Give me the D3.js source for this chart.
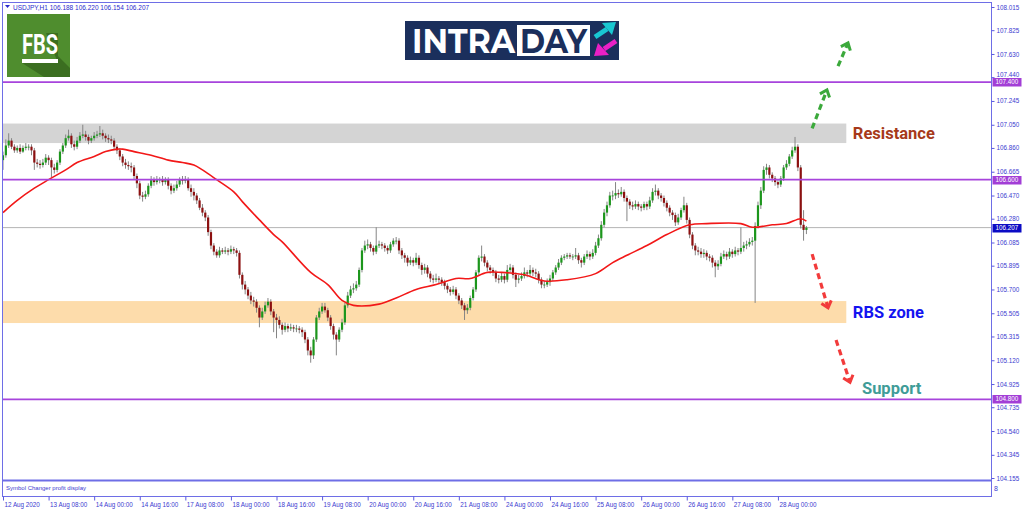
<!DOCTYPE html>
<meta charset="utf-8">
<style>
body {
	margin: 0;
	background: #fff;
}
svg {
	display: block;
	font-family: "Liberation Sans", Arial, sans-serif;
}
.axis text {
	fill: #3b3bd0;
	font-size: 6.3px;
}
.axis line {
	stroke: #5a5ae0;
}
.axis path {
	display: none;
}
.note {
	font-family: Roboto, "Liberation Sans", sans-serif;
	font-weight: bold;
	font-size: 16.5px;
}
</style>
<body>
<svg width="1024" height="511"></svg>
<script src="https://d3js.org/d3.v7.min.js"></script>
<script>

// USDJPY H1, 12 Aug 16:00 .. 28 Aug 10:00 (one value per hourly bar)
var opens = [
	106.76,106.80,106.88,106.92,106.87,106.84,106.86,106.83,106.86,106.87,106.87,106.84,106.74,106.73,106.72,106.74,
	106.78,106.76,106.70,106.68,106.74,106.83,106.88,106.94,106.96,106.89,106.87,106.92,106.96,106.97,106.95,106.92,
	106.94,106.96,106.97,106.98,106.96,106.94,106.93,106.92,106.87,106.84,106.79,106.74,106.72,106.71,106.70,106.63,
	106.57,106.47,106.46,106.48,106.55,106.60,106.58,106.60,106.60,106.58,106.60,106.55,106.51,106.53,106.56,106.60,
	106.59,106.60,106.53,106.50,106.47,106.43,106.37,106.33,106.29,106.17,106.06,106.01,105.98,106.02,106.01,106.02,
	106.01,106.03,106.02,106.00,105.82,105.74,105.70,105.65,105.61,105.60,105.55,105.47,105.52,105.57,105.60,105.52,
	105.47,105.45,105.41,105.37,105.40,105.38,105.39,105.38,105.38,105.37,105.35,105.29,105.20,105.16,105.29,105.47,
	105.52,105.56,105.53,105.47,105.40,105.33,105.29,105.37,105.43,105.57,105.65,105.70,105.71,105.74,105.86,106.02,
	106.06,106.07,106.04,106.01,106.06,106.07,106.06,106.04,106.02,106.07,106.10,106.10,106.02,105.98,105.96,105.92,
	105.94,105.92,105.96,105.90,105.86,105.88,105.83,105.79,105.78,105.79,105.78,105.76,105.73,105.70,105.68,105.70,
	105.65,105.61,105.57,105.53,105.55,105.63,105.70,105.84,105.96,105.97,105.92,105.88,105.86,105.84,105.79,105.78,
	105.81,105.78,105.86,105.88,105.82,105.78,105.79,105.81,105.84,105.83,105.86,105.84,105.83,105.78,105.74,105.74,
	105.76,105.79,105.84,105.88,105.92,105.96,105.97,105.98,105.97,105.97,105.98,105.94,105.92,105.97,105.99,105.97,
	106.00,106.06,106.12,106.23,106.33,106.39,106.47,106.47,106.49,106.48,106.50,106.45,106.42,106.39,106.38,106.40,
	106.38,106.37,106.40,106.38,106.43,106.50,106.51,106.47,106.45,106.41,106.37,106.33,106.31,106.25,106.29,106.35,
	106.39,106.27,106.15,106.06,106.02,106.01,105.99,106.00,105.97,105.96,105.92,105.89,105.91,105.97,105.99,105.97,
	106.01,105.99,106.02,106.01,106.04,106.06,106.07,106.09,106.10,106.22,106.39,106.51,106.68,106.70,106.64,106.61,
	106.58,106.56,106.61,106.70,106.73,106.79,106.84,106.87,106.70,106.23,106.188
];
var highs = [
	106.83,106.93,106.98,106.94,106.89,106.88,106.89,106.88,106.90,106.89,106.89,106.86,106.77,106.76,106.77,106.81,
	106.80,106.78,106.73,106.76,106.85,106.90,106.97,107.01,106.98,106.92,106.95,106.99,107.05,107.00,106.97,106.96,
	106.99,107.00,107.04,107.01,106.98,106.97,106.96,106.94,106.89,106.86,106.81,106.77,106.75,106.74,106.72,106.65,
	106.59,106.50,106.51,106.57,106.63,106.62,106.63,106.62,106.63,106.62,106.62,106.57,106.56,106.59,106.62,106.63,
	106.63,106.62,106.56,106.53,106.49,106.45,106.40,106.35,106.31,106.19,106.08,106.03,106.05,106.04,106.05,106.04,
	106.06,106.05,106.04,106.02,105.84,105.77,105.72,105.68,105.64,105.62,105.57,105.55,105.60,105.63,105.62,105.54,
	105.50,105.48,105.43,105.43,105.42,105.42,105.41,105.41,105.40,105.39,105.37,105.31,105.23,105.31,105.49,105.55,
	105.59,105.59,105.55,105.49,105.42,105.35,105.39,105.46,105.59,105.68,105.73,105.75,105.77,105.88,106.04,106.10,
	106.11,106.09,106.06,106.21,106.10,106.09,106.08,106.06,106.09,106.12,106.13,106.12,106.04,106.00,105.98,105.97,
	105.96,106.00,105.98,105.92,105.91,105.90,105.85,105.82,105.83,105.81,105.80,105.78,105.75,105.72,105.73,105.72,
	105.67,105.63,105.59,105.58,105.65,105.72,105.86,105.98,106.06,105.99,105.94,105.90,105.88,105.86,105.82,105.84,
	105.83,105.90,105.91,105.90,105.84,105.82,105.84,105.88,105.86,105.90,105.88,105.87,105.85,105.80,105.77,105.79,
	105.82,105.86,105.90,105.95,105.98,105.99,106.00,106.00,105.99,106.04,106.00,105.96,105.99,106.02,106.01,106.03,
	106.09,106.15,106.26,106.36,106.42,106.50,106.51,106.58,106.52,106.54,106.52,106.47,106.44,106.42,106.43,106.42,
	106.40,106.42,106.42,106.46,106.53,106.56,106.53,106.49,106.47,106.43,106.39,106.35,106.33,106.32,106.37,106.46,
	106.41,106.29,106.17,106.08,106.05,106.04,106.03,106.02,105.99,105.98,105.94,105.94,106.00,106.02,106.01,106.04,
	106.03,106.05,106.04,106.21,106.09,106.10,106.12,106.13,106.25,106.42,106.54,106.71,106.73,106.72,106.66,106.63,
	106.60,106.63,106.72,106.76,106.81,106.87,106.95,106.89,106.72,106.35,106.220
];
var lows = [
	106.68,106.78,106.86,106.85,106.82,106.82,106.81,106.82,106.84,106.84,106.80,106.68,106.70,106.69,106.70,106.72,
	106.72,106.62,106.65,106.66,106.72,106.81,106.86,106.92,106.86,106.84,106.85,106.90,106.94,106.92,106.89,106.90,
	106.92,106.94,106.95,106.93,106.91,106.90,106.89,106.85,106.81,106.76,106.71,106.69,106.68,106.66,106.60,106.53,
	106.44,106.42,106.44,106.46,106.53,106.55,106.56,106.57,106.55,106.56,106.52,106.48,106.49,106.51,106.54,106.56,
	106.57,106.51,106.46,106.43,106.40,106.35,106.30,106.26,106.14,106.03,105.98,105.96,105.96,105.99,105.99,105.98,
	105.99,105.99,105.97,105.79,105.70,105.66,105.62,105.58,105.56,105.51,105.39,105.45,105.50,105.55,105.49,105.35,
	105.30,105.38,105.33,105.35,105.35,105.36,105.35,105.35,105.34,105.31,105.26,105.16,105.10,105.13,105.27,105.45,
	105.50,105.51,105.44,105.37,105.29,105.16,105.27,105.35,105.41,105.55,105.63,105.67,105.69,105.72,105.84,106.00,
	106.03,106.01,105.98,105.99,106.04,106.03,106.01,105.99,106.00,106.05,106.07,105.99,105.95,105.92,105.89,105.90,
	105.89,105.90,105.87,105.82,105.83,105.80,105.76,105.75,105.76,105.75,105.73,105.70,105.67,105.65,105.66,105.62,
	105.58,105.54,105.45,105.50,105.53,105.61,105.68,105.82,105.93,105.89,105.85,105.83,105.81,105.76,105.75,105.76,
	105.75,105.76,105.84,105.79,105.72,105.75,105.77,105.79,105.80,105.81,105.81,105.80,105.75,105.71,105.71,105.72,
	105.73,105.77,105.82,105.86,105.90,105.94,105.95,105.95,105.94,105.95,105.91,105.88,105.90,105.95,105.94,105.95,
	105.98,106.04,106.10,106.21,106.30,106.37,106.43,106.44,106.45,106.46,106.42,106.26,106.36,106.35,106.36,106.35,
	106.34,106.35,106.35,106.36,106.41,106.47,106.44,106.42,106.38,106.34,106.30,106.27,106.22,106.23,106.27,106.33,
	106.24,106.12,106.03,105.98,105.98,105.96,105.96,105.94,105.93,105.88,105.80,105.86,105.89,105.95,105.94,105.95,
	105.96,105.97,105.98,105.99,106.01,106.03,106.05,106.06,105.59,106.20,106.36,106.49,106.64,106.61,106.58,106.55,
	106.53,106.54,106.59,106.68,106.71,106.77,106.82,106.67,106.20,106.10,106.154
];
var closes = [
	106.80,106.88,106.92,106.87,106.84,106.86,106.83,106.86,106.87,106.87,106.84,106.74,106.73,106.72,106.74,106.78,
	106.76,106.70,106.68,106.74,106.83,106.88,106.94,106.96,106.89,106.87,106.92,106.96,106.97,106.95,106.92,106.94,
	106.96,106.97,106.98,106.96,106.94,106.93,106.92,106.87,106.84,106.79,106.74,106.72,106.71,106.70,106.63,106.57,
	106.47,106.46,106.48,106.55,106.60,106.58,106.60,106.60,106.58,106.60,106.55,106.51,106.53,106.56,106.60,106.59,
	106.60,106.53,106.50,106.47,106.43,106.37,106.33,106.29,106.17,106.06,106.01,105.98,106.02,106.01,106.02,106.01,
	106.03,106.02,106.00,105.82,105.74,105.70,105.65,105.61,105.60,105.55,105.47,105.52,105.57,105.60,105.52,105.47,
	105.45,105.41,105.37,105.40,105.38,105.39,105.38,105.38,105.37,105.35,105.29,105.20,105.16,105.29,105.47,105.52,
	105.56,105.53,105.47,105.40,105.33,105.29,105.37,105.43,105.57,105.65,105.70,105.71,105.74,105.86,106.02,106.06,
	106.07,106.04,106.01,106.06,106.07,106.06,106.04,106.02,106.07,106.10,106.10,106.02,105.98,105.96,105.92,105.94,
	105.92,105.96,105.90,105.86,105.88,105.83,105.79,105.78,105.79,105.78,105.76,105.73,105.70,105.68,105.70,105.65,
	105.61,105.57,105.53,105.55,105.63,105.70,105.84,105.96,105.97,105.92,105.88,105.86,105.84,105.79,105.78,105.81,
	105.78,105.86,105.88,105.82,105.78,105.79,105.81,105.84,105.83,105.86,105.84,105.83,105.78,105.74,105.74,105.76,
	105.79,105.84,105.88,105.92,105.96,105.97,105.98,105.97,105.97,105.98,105.94,105.92,105.97,105.99,105.97,106.00,
	106.06,106.12,106.23,106.33,106.39,106.47,106.47,106.49,106.48,106.50,106.45,106.42,106.39,106.38,106.40,106.38,
	106.37,106.40,106.38,106.43,106.50,106.51,106.47,106.45,106.41,106.37,106.33,106.31,106.25,106.29,106.35,106.39,
	106.27,106.15,106.06,106.02,106.01,105.99,106.00,105.97,105.96,105.92,105.89,105.91,105.97,105.99,105.97,106.01,
	105.99,106.02,106.01,106.04,106.06,106.07,106.09,106.10,106.22,106.39,106.51,106.68,106.70,106.64,106.61,106.58,
	106.56,106.61,106.70,106.73,106.79,106.84,106.87,106.70,106.23,106.188,106.207
];

// red moving average, read at a few bars
var maIdx = [0,5,11,16,22,26,32,36,40,42,46,52,58,63,67,70,75,81,84,90,95,98,108,114,119,123,132,138,145,152,159,164,170,175,183,190,198,208,214,219,226,233,241,247,259,263,270,275,280,282];
var maVal = [106.33,106.43,106.53,106.60,106.68,106.74,106.79,106.83,106.85,106.85,106.83,106.80,106.76,106.74,106.72,106.68,106.60,106.50,106.42,106.27,106.15,106.09,105.84,105.74,105.61,105.57,105.58,105.63,105.70,105.74,105.79,105.79,105.84,105.84,105.82,105.77,105.78,105.83,105.92,105.98,106.06,106.15,106.23,106.24,106.24,106.21,106.23,106.24,106.28,106.26];

var xTickIdx = [0,16,32,48,64,80,96,112,128,144,160,176,192,208,224,240,256,272];
var xLabels = ["12 Aug 2020","13 Aug 08:00","14 Aug 00:00","14 Aug 16:00","17 Aug 08:00","18 Aug 00:00","18 Aug 16:00","19 Aug 08:00","20 Aug 00:00","20 Aug 16:00","21 Aug 08:00","24 Aug 00:00","24 Aug 16:00","25 Aug 08:00","26 Aug 00:00","26 Aug 16:00","27 Aug 08:00","28 Aug 00:00"];
var yTicks = [108.015,107.825,107.630,107.440,107.245,107.050,106.860,106.665,106.470,106.280,106.085,105.895,105.700,105.505,105.315,105.120,104.925,104.735,104.540,104.345,104.155];

var levels = [107.400, 106.600, 104.800];
var lastPrice = 106.207;
var resistanceZone = [106.90, 107.06];
var rbsZone = [105.425, 105.605];
var zoneEndIdx = 296;

// dashed scenario arrows (bar index / price)
var arrowX1 = [284.0, 293.1, 284.0, 292.4];
var arrowY1 = [107.02, 107.53, 105.99, 105.285];
var arrowX2 = [289.2, 296.6, 289.6, 297.3];
var arrowY2 = [107.335, 107.72, 105.55, 104.94];

var notes = ["Resistance", "RBS zone", "Support"];
var noteIdx = [298.3, 298.3, 301.5];
var notePrice = [106.98, 105.515, 104.89];
var noteColor = ["#a6391a", "#1414f0", "#3f9c98"];

var svg = d3.select("svg");
var plotL = 3, plotR = 991.5, plotT = 3, plotB = 480;

var x = d3.scaleLinear().domain([0, 347]).range([3, 991.6]);
var y = d3.scaleLinear().domain([104.155, 108.015]).range([478, 7]);

var bars = closes.map(function(c, i) {
	return {i: i, o: opens[i], h: highs[i], l: lows[i], c: c};
});

svg.append("defs").append("clipPath").attr("id", "plot")
	.append("rect").attr("x", plotL).attr("y", plotT).attr("width", plotR - plotL).attr("height", plotB - plotT);

var plot = svg.append("g").attr("clip-path", "url(#plot)");

// zones
[[resistanceZone, "#d4d4d4"], [rbsZone, "#fddcab"]].forEach(function(z) {
	plot.append("rect")
		.attr("x", plotL)
		.attr("width", x(zoneEndIdx) - plotL)
		.attr("y", y(z[0][1]))
		.attr("height", y(z[0][0]) - y(z[0][1]))
		.attr("fill", z[1]);
});

plot.append("line")
	.attr("x1", plotL).attr("x2", plotR)
	.attr("y1", y(lastPrice)).attr("y2", y(lastPrice))
	.attr("stroke", "#b4b4b4").attr("stroke-width", 1);

// candles
var candle = plot.append("g").selectAll("g").data(bars).join("g");
candle.append("line")
	.attr("x1", function(d) { return x(d.i); })
	.attr("x2", function(d) { return x(d.i); })
	.attr("y1", function(d) { return y(d.h); })
	.attr("y2", function(d) { return y(d.l); })
	.attr("stroke", "#858585")
	.attr("stroke-width", 1);
candle.append("rect")
	.attr("x", function(d) { return x(d.i) - 1.1; })
	.attr("width", 2.2)
	.attr("y", function(d) { return y(Math.max(d.o, d.c)); })
	.attr("height", function(d) { return Math.max(0.8, Math.abs(y(d.o) - y(d.c))); })
	.attr("fill", function(d) { return d.c >= d.o ? "#1c961c" : "#8c1010"; });

// moving average
var ma = d3.line()
	.x(function(d, k) { return x(maIdx[k]); })
	.y(function(d) { return y(d); })
	.curve(d3.curveCatmullRom);
plot.append("path")
	.attr("d", ma(maVal))
	.attr("fill", "none")
	.attr("stroke", "#f21818")
	.attr("stroke-width", 1.6);

// horizontal levels
plot.selectAll(".lvl").data(levels).join("line")
	.attr("x1", plotL).attr("x2", plotR)
	.attr("y1", function(d) { return y(d); })
	.attr("y2", function(d) { return y(d); })
	.attr("stroke", "#a744dc")
	.attr("stroke-width", 1.7);

// frame
var frame = "#6e6ee6";
svg.append("line").attr("x1", 2).attr("x2", plotR).attr("y1", 2.5).attr("y2", 2.5).attr("stroke", frame);
svg.append("line").attr("x1", 2.5).attr("x2", 2.5).attr("y1", 2).attr("y2", 497).attr("stroke", frame);
svg.append("line").attr("x1", plotR).attr("x2", plotR).attr("y1", 2).attr("y2", 497).attr("stroke", frame);
svg.append("line").attr("x1", 2).attr("x2", plotR).attr("y1", 480.5).attr("y2", 480.5).attr("stroke", frame).attr("stroke-width", 2);
svg.append("line").attr("x1", 2).attr("x2", plotR).attr("y1", 496.5).attr("y2", 496.5).attr("stroke", frame);

// right price axis
var yAxis = svg.append("g").attr("class", "axis")
	.attr("transform", "translate(" + plotR + ",0)")
	.call(d3.axisRight(y).tickValues(yTicks).tickSize(3).tickPadding(2).tickFormat(d3.format(".3f")));
// the 107.440 label sits just above the 107.400 tag
yAxis.selectAll(".tick").filter(function(d) { return d === 107.440; })
	.select("text").attr("dy", "-0.05em");

// price tags
var tags = levels.map(function(v) { return [v, "#a23ed6"]; }).concat([[lastPrice, "#0b0bc4"]]);
tags.forEach(function(t) {
	var ty = Math.round(y(t[0]));
	svg.append("rect").attr("x", plotR + 1).attr("y", ty - 4).attr("width", 29).attr("height", 8.5).attr("fill", t[1]);
	svg.append("text").attr("x", plotR + 4).attr("y", ty + 2.4)
		.attr("fill", "#fff").attr("font-size", "6.3px")
		.text(d3.format(".3f")(t[0]));
});

// time axis
var xAxis = svg.append("g").attr("class", "axis")
	.attr("transform", "translate(0,496.5)")
	.call(d3.axisBottom(x).tickValues(xTickIdx).tickSize(4).tickFormat(function(d, k) { return xLabels[k]; }));
xAxis.selectAll("text").attr("text-anchor", "start").attr("dx", "1").attr("dy", "0.55em").attr("font-size", "5.6px");

// indicator sub-window
svg.append("text").attr("x", 6).attr("y", 490).attr("fill", "#3b3bd0").attr("font-size", "6px")
	.text("Symbol Changer profit display");
svg.append("text").attr("x", 994).attr("y", 491).attr("fill", "#3b3bd0").attr("font-size", "7px").text("8");

// title
svg.append("path").attr("d", "M5,5 L10,5 L7.5,8 Z").attr("fill", "#2a2acc");
svg.append("text").attr("x", 13).attr("y", 9.5).attr("fill", "#2a2acc").attr("font-size", "6.5px")
	.text("USDJPY,H1  106.188 106.220 106.154 106.207");

// FBS logo
var fbs = svg.append("g");
fbs.append("rect").attr("x", 7).attr("y", 14).attr("width", 63).attr("height", 63).attr("fill", "#4f8d2e");
fbs.append("path").attr("d", "M46,33 L58,33 L58,56 L70,68 L70,77 L44,77 L22,63 L58,63 Z").attr("fill", "#3b6e20");
fbs.append("text").attr("x", 22).attr("y", 54).attr("fill", "#fff")
	.attr("font-family", "Roboto, sans-serif").attr("font-weight", "bold").attr("font-size", "27px")
	.attr("textLength", 36).attr("lengthAdjust", "spacingAndGlyphs").text("FBS");
fbs.append("rect").attr("x", 22).attr("y", 59).attr("width", 36).attr("height", 4).attr("fill", "#fff");

// INTRADAY logo
var intra = svg.append("g");
intra.append("rect").attr("x", 405).attr("y", 21).attr("width", 214).attr("height", 39).attr("fill", "#1b2f5c");
intra.append("rect").attr("x", 517).attr("y", 25).attr("width", 73).attr("height", 31).attr("fill", "#fff");
intra.append("text").attr("x", 412).attr("y", 53).attr("fill", "#fff")
	.attr("font-family", "Montserrat, 'Open Sans', sans-serif").attr("font-weight", "bold").attr("font-size", "34px")
	.attr("textLength", 103).attr("lengthAdjust", "spacingAndGlyphs").text("INTRA");
intra.append("text").attr("x", 520).attr("y", 53).attr("fill", "#1b2f5c")
	.attr("font-family", "Montserrat, 'Open Sans', sans-serif").attr("font-weight", "bold").attr("font-size", "34px")
	.attr("textLength", 67).attr("lengthAdjust", "spacingAndGlyphs").text("DAY");
intra.append("line").attr("x1", 595).attr("y1", 37).attr("x2", 607).attr("y2", 29).attr("stroke", "#19c7d2").attr("stroke-width", 5);
intra.append("path").attr("d", "M602,23 L616,22 L612,35 Z").attr("fill", "#19c7d2");
intra.append("line").attr("x1", 616).attr("y1", 41).attr("x2", 604).attr("y2", 49).attr("stroke", "#ea20c6").attr("stroke-width", 5);
intra.append("path").attr("d", "M609,55 L594,56 L598,43 Z").attr("fill", "#ea20c6");

// scenario arrows
arrowX1.forEach(function(v, k) {
	var x1 = x(v), y1 = y(arrowY1[k]), x2 = x(arrowX2[k]), y2 = y(arrowY2[k]);
	var col = arrowY2[k] > arrowY1[k] ? "#3ba93b" : "#f23b3b";
	svg.append("line")
		.attr("x1", x1).attr("y1", y1).attr("x2", x2).attr("y2", y2)
		.attr("stroke", col).attr("stroke-width", 3.2).attr("stroke-dasharray", "6,4");
	var a = Math.atan2(y1 - y2, x1 - x2), len = 8, spread = 0.7;
	svg.append("path")
		.attr("d", "M" + (x2 + len * Math.cos(a - spread)) + "," + (y2 + len * Math.sin(a - spread)) +
			"L" + x2 + "," + y2 +
			"L" + (x2 + len * Math.cos(a + spread)) + "," + (y2 + len * Math.sin(a + spread)))
		.attr("fill", "none").attr("stroke", col).attr("stroke-width", 3);
});

// zone labels
notes.forEach(function(t, k) {
	svg.append("text").attr("class", "note")
		.attr("x", x(noteIdx[k])).attr("y", y(notePrice[k]))
		.attr("dy", "0.36em")
		.attr("fill", noteColor[k])
		.text(t);
});

</script>
</body>
